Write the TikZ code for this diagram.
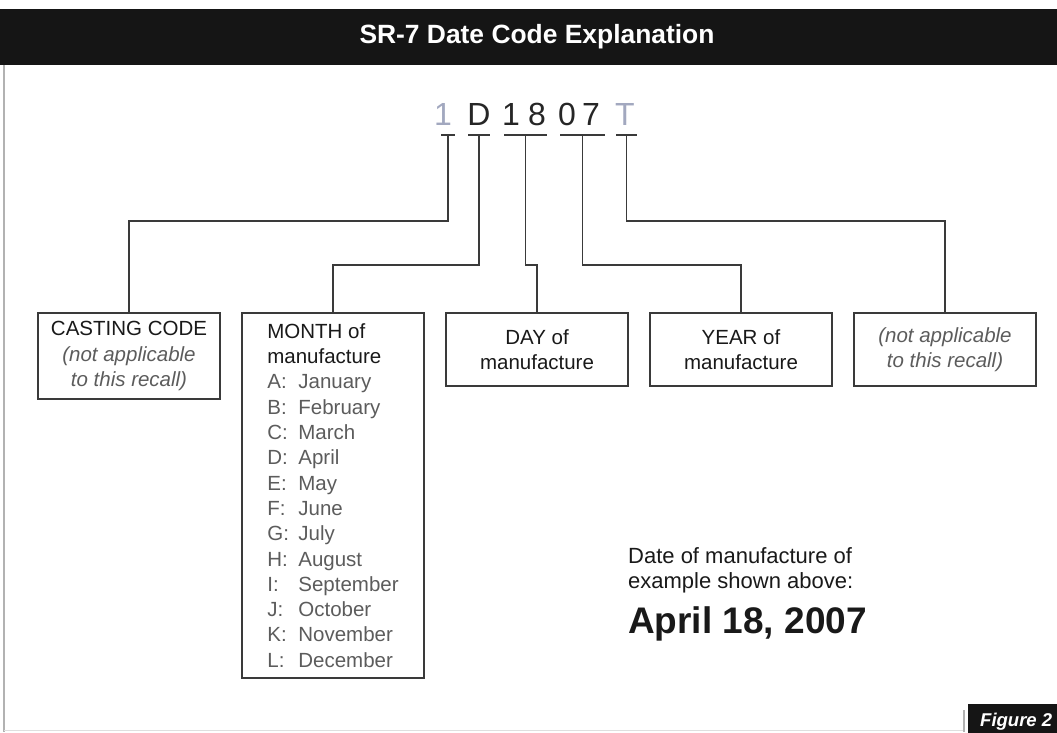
\documentclass[tikz,border=0pt]{standalone}
\usepackage{fontspec}
\setmainfont{Liberation Sans}
\usetikzlibrary{positioning}
\definecolor{barblack}{HTML}{151515}
\definecolor{codegray}{HTML}{A2A8BF}
\definecolor{listgray}{HTML}{5C5C5C}
\definecolor{linegray}{HTML}{3A3A3A}
\newcommand{\nagray}[1]{{\color{listgray}\itshape #1}}
\newcommand{\mo}[2]{{\color{listgray}\makebox[31pt][l]{#1}#2}}
\tikzset{
	bx/.style={draw=linegray, line width=1.6pt, rectangle, minimum width=182pt,
		inner sep=0pt, outer sep=0pt, align=center, text=black!90,
		font=\fontsize{20.5}{25.3}\selectfont},
	tick/.style={fill=linegray, rectangle, inner sep=0pt, minimum height=2.2pt},
	wire/.style={draw=linegray, line width=1.5pt}
}

\begin{document}
\begin{tikzpicture}[
				x=1pt, y=-1pt,
				code/.style={anchor=base, inner sep=0pt, text=black!85,
					font=\fontsize{32}{38}\selectfont},
				captext/.style={anchor=base west, inner sep=0pt, text=black!90,
					font=\fontsize{22}{25}\selectfont}
				]
				\useasboundingbox (0,0) rectangle (1057,732);
				
				% frame and header
				\draw[gray!60, line width=1.5pt] (4,65) -- (4,732);
				\draw[gray!25, line width=1pt] (4,730) -- (964,730);
				\fill[barblack] (0,9) rectangle (1057,65);
				\node[text=white, font=\bfseries\fontsize{26.4}{30}\selectfont] (title) at (537,37) {SR-7 Date Code Explanation};
				
				% the date code
				\node[code, text=codegray] (k1) at (443,125) {1};
				\node[code] (kD) at (479,125) {D};
				\node[code] (k1b) at (511,125) {1};
				\node[code] (k8) at (537,125) {8};
				\node[code] (k0) at (567,125) {0};
				\node[code] (k7) at (591,125) {7};
				\node[code, text=codegray] (kT) at (625,125) {T};
				
				\node[tick, minimum width=14pt] (u1) at (448,135) {};
				\node[tick, minimum width=22pt] (uD) at (479,135) {};
				\node[tick, minimum width=43pt] (u18) at (525.5,135) {};
				\node[tick, minimum width=45pt] (u07) at (582.5,135) {};
				\node[tick, minimum width=21pt] (uT) at (626.5,135) {};
				
				\coordinate (hi) at (0,221);
				\coordinate (lo) at (0,265);
				
				% boxes
				\node[bx, minimum height=86pt, anchor=north west] (casting) at (38,313) {CASTING CODE\\\nagray{(not applicable}\\\nagray{to this recall)}};
				\node[bx, minimum height=365pt, right=22pt of casting.north east, anchor=north west, align=left] (month) {MONTH of\\manufacture\\
					\mo{A:}{January}\\\mo{B:}{February}\\\mo{C:}{March}\\\mo{D:}{April}\\
					\mo{E:}{May}\\\mo{F:}{June}\\\mo{G:}{July}\\\mo{H:}{August}\\
					\mo{I:}{September}\\\mo{J:}{October}\\\mo{K:}{November}\\\mo{L:}{December}};
				\node[bx, minimum height=73pt, right=22pt of month.north east, anchor=north west] (day) {DAY of\\manufacture};
				\node[bx, minimum height=73pt, right=22pt of day.north east, anchor=north west] (year) {YEAR of\\manufacture};
				\node[bx, minimum height=73pt, right=22pt of year.north east, anchor=north west] (other) {\nagray{(not applicable}\\\nagray{to this recall)}};
				
				% connectors
				\draw[wire] (u1.center) -- (u1.center |- hi) -| (casting.north);
				\draw[wire] (uD.center) -- (uD.center |- lo) -| (month.north);
				\draw[wire] (u18.center) -- (u18.center |- lo) -| (day.north);
				\draw[wire] (u07.center) -- (u07.center |- lo) -| (year.north);
				\draw[wire] (uT.center) -- (uT.center |- hi) -| (other.north);
				
				% result
				\node[captext] (capa) at (628,563) {Date of manufacture of};
				\node[captext] (capb) at ([yshift=-25pt]capa.base west) {example shown above:};
				\node[captext, font=\bfseries\fontsize{37}{44}\selectfont] (result) at ([yshift=-45pt]capb.base west) {April 18, 2007};
				
				% figure tag
				\fill[barblack] (968,704) rectangle (1062,736);
				\draw[gray!60, line width=1.5pt] (964,710) -- (964,732);
				\node[anchor=base west, inner sep=0pt, text=white, font=\bfseries\itshape\fontsize{18.5}{22}\selectfont] (fig) at (980,726) {Figure 2};
				
			\end{tikzpicture}
\end{document}
